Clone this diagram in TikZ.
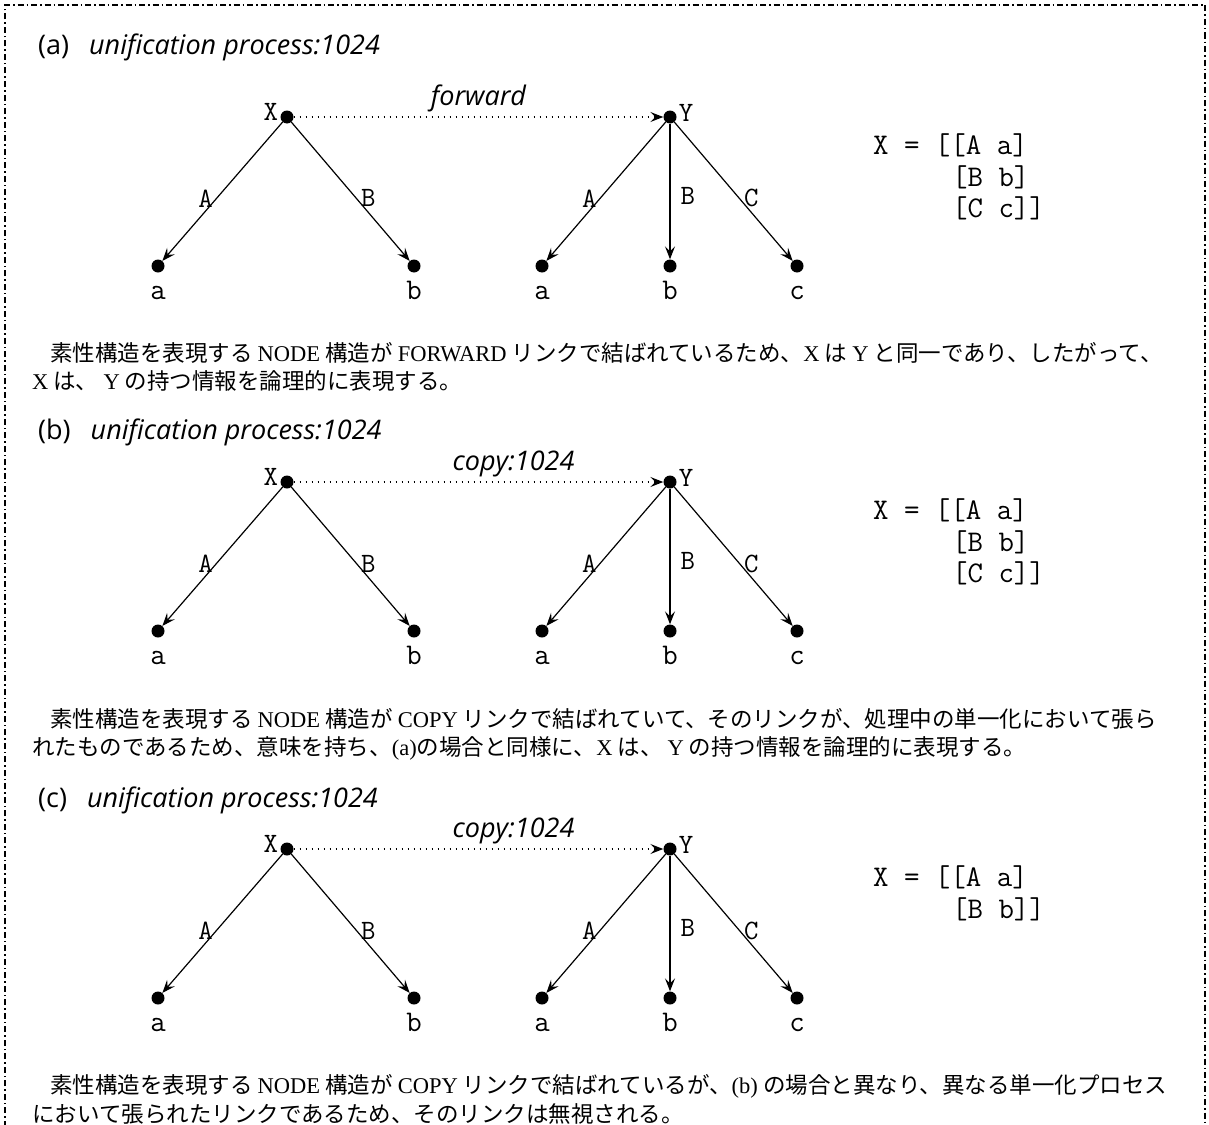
\documentclass[tikz,border=0pt]{standalone}
\usepackage{fontspec}
\newfontfamily\cjk{Noto Sans CJK JP}
\newfontfamily\headfont{Open Sans}
\newfontfamily\ltn{Liberation Serif}
\usetikzlibrary{arrows.meta,positioning}

\tikzset{
  dot/.style={circle, fill, inner sep=0pt, minimum size=13pt},
  tt/.style={font=\ttfamily\fontsize{30}{30}\selectfont, inner sep=1pt},
  elbl/.style={font=\ttfamily\fontsize{28}{28}\selectfont, inner sep=2pt},
  leaf/.style={dot, label={[tt, label distance=8pt, text height=18pt, text depth=0pt]below:#1}},
  edge/.style={->, line width=1.2pt},
  link/.style={->, line width=1.5pt, dash pattern=on 1.6pt off 4.4pt},
  head/.style={font=\headfont\fontsize{27}{27}\selectfont, anchor=west, inner sep=0pt},
  jp/.style={font=\cjk\fontsize{22.5}{24}\selectfont, anchor=west, inner sep=0pt},
  fs/.style={tt, anchor=west, inner sep=0pt}
}

\begin{document}
\begin{tikzpicture}[x=1pt, y=-1pt, >={Stealth[length=13pt,width=10pt,inset=5pt]}]
  \useasboundingbox (0,0) rectangle (1209,1124);
  \draw[line width=1.2pt, dash pattern=on 6pt off 3pt on 1.5pt off 3pt]
    (5,1140) -- (5,5) -- (1205,5) -- (1205,1140);

  % three trees, one per case
  \foreach \s/\yy/\hy/\lnk/\dx in {a/117/47/forward/0, b/482/432/copy:1024/35, c/849/800/copy:1024/35} {
    \begin{scope}[shift={(0,\yy)}]
      \node[head] (h\s) at (38,\hy-\yy) {(\s)\hspace{20pt}\textit{unification process:1024}};
      \node[dot, label={[elbl, yshift=5pt]left:X}] (X\s) at (287,0) {};
      \node[dot, label={[elbl, yshift=4pt]right:Y}] (Y\s) at (670,0) {};
      \node[leaf=a] (xa\s) at (158,149) {};
      \node[leaf=b] (xb\s) at (414,149) {};
      \node[leaf=a] (ya\s) at (542,149) {};
      \node[leaf=b] (yb\s) at (670,149) {};
      \node[leaf=c] (yc\s) at (797,149) {};
      \draw[link] (X\s) -- node[above=1pt, font=\headfont\itshape\fontsize{27}{27}\selectfont, xshift=\dx pt] {\lnk} (Y\s);
      \draw[edge] (X\s) -- node[elbl, pos=.55, left=1pt] {A} (xa\s);
      \draw[edge] (X\s) -- node[elbl, pos=.55, right=2pt] {B} (xb\s);
      \draw[edge] (Y\s) -- node[elbl, pos=.55, left=1pt] {A} (ya\s);
      \draw[edge] (Y\s) -- node[elbl, pos=.53, right=8pt] {B} (yb\s);
      \draw[edge] (Y\s) -- node[elbl, pos=.55, right=2pt] {C} (yc\s);
    \end{scope}
  }

  % feature structures
  \node[fs] (fa1) at (873,145) {X = [[A a]};
  \node[fs] (fa2) at (952,177) {[B b]};
  \node[fs] (fa3) at (952,208) {[C c]]};
  \node[fs] (fb1) at (873,510) {X = [[A a]};
  \node[fs] (fb2) at (952,542) {[B b]};
  \node[fs] (fb3) at (952,573) {[C c]]};
  \node[fs] (fc1) at (873,877) {X = [[A a]};
  \node[fs] (fc2) at (952,909) {[B b]]};

  % explanations
  \node[jp] (ta1) at (50,353) {素性構造を表現する {\ltn NODE} 構造が {\ltn FORWARD} リンクで結ばれているため、{\ltn X} は {\ltn Y} と同一であり、したがって、};
  \node[jp] (ta2) at (32,381) {{\ltn X} は、 {\ltn Y} の持つ情報を論理的に表現する。};
  \node[jp] (tb1) at (50,719) {素性構造を表現する {\ltn NODE} 構造が {\ltn COPY} リンクで結ばれていて、そのリンクが、処理中の単一化において張ら};
  \node[jp] (tb2) at (32,748) {れたものであるため、意味を持ち、{\ltn(a)}の場合と同様に、{\ltn X} は、 {\ltn Y} の持つ情報を論理的に表現する。};
  \node[jp] (tc1) at (50,1086) {素性構造を表現する {\ltn NODE} 構造が {\ltn COPY} リンクで結ばれているが、{\ltn(b)} の場合と異なり、異なる単一化プロセス};
  \node[jp] (tc2) at (32,1114) {において張られたリンクであるため、そのリンクは無視される。};
\end{tikzpicture}
\end{document}
